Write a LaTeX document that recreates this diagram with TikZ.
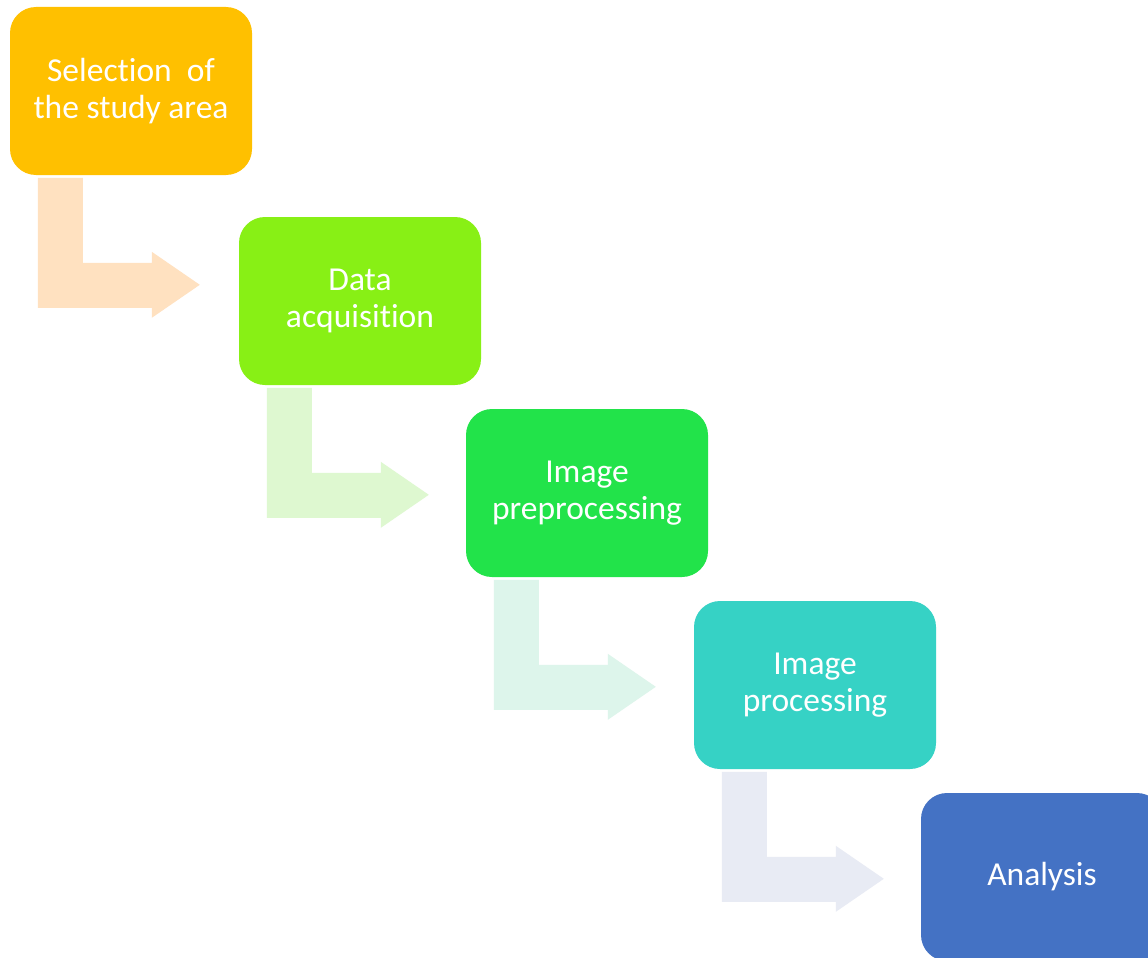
\documentclass[tikz,border=0pt]{standalone}
\usepackage{fontspec}
\setmainfont[Ligatures={NoCommon,NoContextual},RawFeature={-liga;-clig;-calt;-dlig}]{Carlito}
\usetikzlibrary{calc}
\definecolor{cOrange}{HTML}{FFC000}
\definecolor{cLime}{HTML}{88F015}
\definecolor{cGreen}{HTML}{22E34A}
\definecolor{cTeal}{HTML}{36D2C5}
\definecolor{cBlue}{HTML}{4472C4}
\definecolor{aOrange}{HTML}{FFE1C0}
\definecolor{aLime}{HTML}{DEF8D0}
\definecolor{aGreen}{HTML}{DDF5EB}
\definecolor{aTeal}{HTML}{E8EBF4}
\tikzset{
  stagebox/.style={rounded corners=26pt, minimum width=242pt, minimum height=168pt,
    inner sep=0pt, text=white, align=center,
    font=\fontsize{33.5}{37.5}\selectfont}
}
\newcommand\bentarr[2]{%
  \begin{scope}[shift={(#1.north west)}]
    \fill[#2] (28,171) -- (73,171) -- (73,256) -- (142,256) -- (142,245)
      -- (190,278) -- (142,311) -- (142,301) -- (28,301) -- cycle;
  \end{scope}}
\begin{document}
\begin{tikzpicture}[x=1pt,y=-1pt]
\useasboundingbox (0,0) rectangle (1148,958);
\clip (0,0) rectangle (1148,958);
\fill[white] (0,0) rectangle (1148,958);
\node[stagebox, fill=cOrange] (b1) at (131,91) {Selec\kern0pt t\kern0pt ion\ \ of\\the study area};
\node[stagebox, fill=cLime] (b2) at (360,301) {Data\\acquisi\kern0pt t\kern0pt ion};
\node[stagebox, fill=cGreen] (b3) at (587,493) {Image\\preprocessing};
\node[stagebox, fill=cTeal] (b4) at (815,685) {Image\\processing};
\node[stagebox, fill=cBlue] (b5) at (1042,877) {Analysis};
\bentarr{b1}{aOrange}
\bentarr{b2}{aLime}
\bentarr{b3}{aGreen}
\bentarr{b4}{aTeal}
\end{tikzpicture}
\end{document}
